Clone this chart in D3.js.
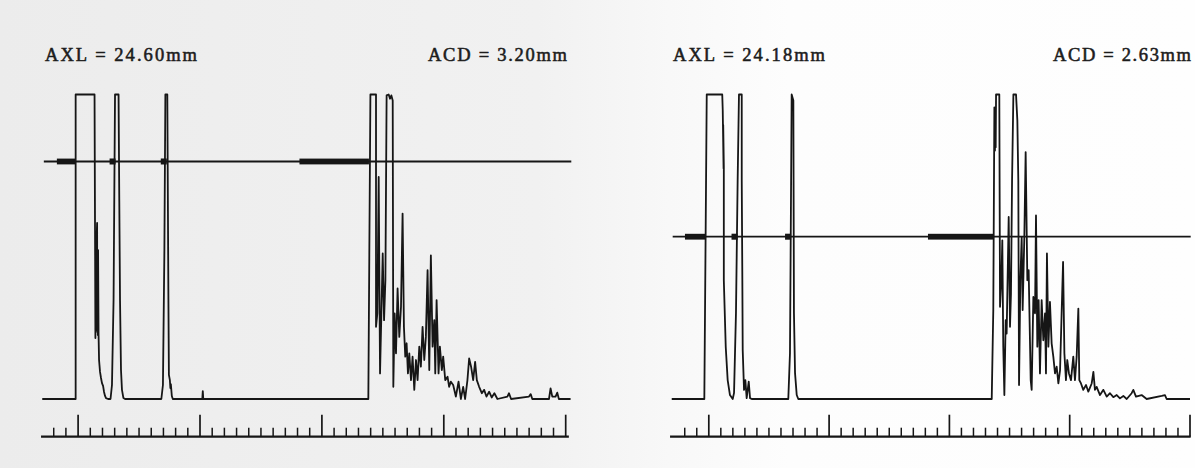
<!DOCTYPE html>
<meta charset="utf-8">
<html>
<head>
<title>A-scan echograms</title>
<script src="https://d3js.org/d3.v7.min.js"></script>
<style>
body {
  margin: 0;
  background: #fff;
}
svg {
  display: block;
}
.label {
  font-family: "Liberation Serif", "DejaVu Serif", serif;
  font-size: 18.5px;
  fill: #1c1c1c;
  stroke: #1c1c1c;
  stroke-width: 0.55px;
}
.trace {
  fill: none;
  stroke: #161616;
  stroke-width: 1.8px;
  stroke-linejoin: round;
}
.gate {
  stroke: #161616;
  stroke-width: 1.8px;
}
.ruler line, .ruler path {
  stroke: #161616;
}
</style>
</head>
<body>
<div id="chart"></div>

<script>
// labels printed above each echogram
var axlLabels = ["AXL = 24.60mm", "AXL = 24.18mm"];
var acdLabels = ["ACD = 3.20mm", "ACD = 2.63mm"];

// ruler ticks (one unit = one small tick)
var majorTicks = [0, 10, 20, 30, 40];
var minorTicks = d3.range(-2, 40).filter(function (v) { return v % 10 !== 0; });

// gate level (amplitude %) and the marks drawn on the gate line
var gateLevels = [78, 53.3];
var leftGateBars = [[-1.7, -0.17], [18.2, 23.9]];
var leftGateDots = [2.87, 7.07];
var rightGateBars = [[-1.94, -0.19], [18.26, 23.75]];
var rightGateDots = [2.18, 6.63];

// echo traces: [depth in ruler units, amplitude %]
var leftTrace = [
  [-2.9, 0], [-0.16, 0], [-0.16, 100], [1.39, 100], [1.43, 55.4], [1.46, 20], [1.48, 50], [1.50, 24],
  [1.52, 52], [1.54, 22.6], [1.57, 54], [1.60, 57.8], [1.62, 22], [1.64, 45], [1.66, 21], [1.68, 48.9],
  [1.72, 21], [1.76, 12.8], [1.84, 8.9], [1.92, 6.9], [2.00, 5.2],
  [2.09, 4.3], [2.17, 2.3], [2.25, 1], [2.33, 0.3], [2.50, 0],
  [2.70, 0], [2.82, 4.6], [2.95, 32.5], [3.07, 100], [3.36, 100], [3.42, 65.2], [3.48, 32.5], [3.56, 9.5],
  [3.64, 3], [3.76, 0.3], [3.89, 0],
  [6.87, 0], [7.00, 4.6], [7.12, 48.9], [7.20, 100], [7.36, 100], [7.41, 62], [7.45, 32.5], [7.49, 7.9],
  [7.57, 6.2], [7.61, 3.6], [7.65, 4.9], [7.73, 1], [7.81, 0],
  [10.23, 0], [10.27, 2.6], [10.31, 0],
  [23.85, 0], [24.02, 100], [24.48, 100], [24.48, 23.7], [24.59, 28.1], [24.70, 72.9], [24.81, 8.4],
  [24.92, 28.1], [25.03, 47.8], [25.14, 25.9], [25.25, 39], [25.35, 99.7], [25.52, 100], [25.63, 98.6],
  [25.74, 99.7], [25.85, 98], [25.90, 4], [26.01, 28.1], [26.12, 15], [26.25, 36.3], [26.39, 20.4],
  [26.53, 30.3], [26.66, 60.9], [26.77, 23.7], [26.88, 13.9], [26.99, 18.3], [27.10, 8.4], [27.21, 15],
  [27.35, 6.2], [27.48, 13.9], [27.62, 3], [27.76, 12.8], [27.89, 6.2], [28.03, 17.2], [28.16, 10.6],
  [28.30, 23.7], [28.44, 12.8], [28.57, 20.4], [28.71, 42.3], [28.85, 9.5], [28.98, 47.2], [29.12, 17.2],
  [29.26, 25.9], [29.34, 8.4], [29.45, 32.5], [29.61, 8.4], [29.72, 17.2], [29.88, 9.5], [29.99, 13.9],
  [30.16, 6.2], [30.35, 7.3], [30.48, 4], [30.62, 5.7], [30.81, 4.6], [31.03, 0.8], [31.25, 5.7],
  [31.44, 0], [31.63, 4], [31.79, 0], [31.98, 6.2], [32.12, 13.3], [32.28, 10.6], [32.45, 6.2],
  [32.61, 12.2], [32.75, 6.2], [32.94, 4], [33.16, 1.9], [33.35, 3], [33.54, 0.8], [33.76, 2.4],
  [33.97, 0.5], [34.19, 1.9], [34.44, 0], [35.26, 0.8], [35.39, 1.9], [35.56, 0], [37.03, 0.8],
  [37.17, 1.6], [37.30, 0], [38.67, 0], [38.80, 3.5], [38.94, 0.8], [39.21, 0.8], [39.35, 2.1],
  [39.48, 0], [40.44, 0]
];

var rightTrace = [
  [-3.04, 0], [-0.33, 0], [-0.13, 100], [1.16, 100], [1.20, 94.8], [1.27, 75.7], [1.24, 90], [1.29, 76.7],
  [1.29, 39], [1.45, 17.1], [1.61, 6.2], [1.80, 1.3], [2.03, 0], [2.14, 2], [2.30, 28.2], [2.44, 71.8],
  [2.55, 100], [2.78, 100], [2.78, 71.8], [2.83, 39], [2.86, 16.1], [2.97, 3], [3.08, 6.2], [3.19, 0.3],
  [3.36, 5.7], [3.47, 0.3], [3.61, 0],
  [6.65, 0], [6.79, 15.1], [6.93, 100], [7.07, 98], [7.12, 28.2], [7.21, 8.5], [7.35, 1.3], [7.48, 0],
  [23.56, 0], [23.69, 29.2], [23.78, 95.8], [23.83, 81.6], [23.86, 95.8], [23.89, 82.7], [23.92, 100],
  [24.19, 100], [24.25, 30.3], [24.36, 39], [24.44, 52.1], [24.52, 17.2], [24.61, 1.3], [24.72, 25.9],
  [24.80, 21.5], [24.97, 59.8], [25.08, 23.7], [25.16, 34.6], [25.25, 71.8], [25.36, 100], [25.58, 100],
  [25.69, 91.5], [25.77, 71.8], [25.83, 4.6], [25.94, 39], [26.05, 53.2], [26.13, 29.2], [26.27, 53.2],
  [26.38, 81.1], [26.52, 39], [26.63, 42.3], [26.80, 6.2], [26.88, 3], [27.02, 33.5], [27.16, 28.1],
  [27.24, 60.3], [27.35, 17.2], [27.46, 32.5], [27.57, 8.4], [27.71, 32.5], [27.85, 19.3], [27.99, 28.1],
  [28.07, 8.4], [28.15, 47.8], [28.27, 17.2], [28.40, 31.9], [28.54, 18.3], [28.68, 13.9], [28.82, 8.4],
  [28.96, 10.6], [29.10, 5.1], [29.24, 9.5], [29.37, 28.1], [29.49, 45], [29.60, 15], [29.73, 6.2],
  [29.84, 12.8], [29.98, 8.4], [30.15, 6.2], [30.34, 13.9], [30.48, 6.2], [30.62, 13.9], [30.76, 29.7],
  [30.84, 6.2], [30.98, 5.1], [31.17, 3], [31.40, 4.6], [31.59, 2.4], [31.87, 5.1], [32.01, 8.9],
  [32.14, 3], [32.28, 4], [32.56, 1.3], [32.84, 3], [33.12, 0.8], [33.39, 1.9], [33.67, 0.6],
  [33.95, 1.3], [34.22, 0.2], [34.50, 1], [34.78, 0], [35.19, 1.9], [35.33, 3], [35.55, 0.8],
  [36.02, 1.3], [36.44, 0], [37.69, 1], [37.96, 1.3], [38.10, 0], [40.04, 0]
];

// layout
var width = 1195, height = 468;
var rulerY = 436.7;

var panels = [
  {
    trace: leftTrace, gate: gateLevels[0], bars: leftGateBars, dots: leftGateDots,
    axl: axlLabels[0], acd: acdLabels[0],
    range: [77.6, 565.2], gateExtent: [-2.77, 40.5], rulerExtent: [-3.0, 40.3],
    axlX: 45, axlW: 152, acdX: 428, acdW: 139
  },
  {
    trace: rightTrace, gate: gateLevels[1], bars: rightGateBars, dots: rightGateDots,
    axl: axlLabels[1], acd: acdLabels[1],
    range: [708.3, 1189.5], gateExtent: [-2.96, 40.1], rulerExtent: [-3.18, 40.1],
    axlX: 673, axlW: 152, acdX: 1053, acdW: 138
  }
];

var svg = d3.select("#chart")
  .append("svg")
  .attr("width", width)
  .attr("height", height);

// scanned paper tone, greyer on the left
var grad = svg.append("defs").append("linearGradient")
  .attr("id", "paper")
  .attr("x1", "0%").attr("x2", "100%");
grad.append("stop").attr("offset", "0%").attr("stop-color", "#ececec");
grad.append("stop").attr("offset", "45%").attr("stop-color", "#f1f1f1");
grad.append("stop").attr("offset", "56%").attr("stop-color", "#f8f8f8");
grad.append("stop").attr("offset", "66%").attr("stop-color", "#fdfdfd");
grad.append("stop").attr("offset", "100%").attr("stop-color", "#fefefe");

svg.append("rect")
  .attr("width", width)
  .attr("height", height)
  .attr("fill", "url(#paper)");

var y = d3.scaleLinear().domain([0, 100]).range([399, 94.5]);

panels.forEach(function (p) {
  var x = d3.scaleLinear().domain([0, 40]).range(p.range);
  var g = svg.append("g");

  // labels, spread out like the printer's fixed pitch
  g.append("text")
    .attr("class", "label")
    .attr("x", p.axlX)
    .attr("y", 61)
    .attr("textLength", p.axlW)
    .attr("lengthAdjust", "spacing")
    .text(p.axl);
  g.append("text")
    .attr("class", "label")
    .attr("x", p.acdX)
    .attr("y", 61)
    .attr("textLength", p.acdW)
    .attr("lengthAdjust", "spacing")
    .text(p.acd);

  // gate line with its thick markers
  g.append("line")
    .attr("class", "gate")
    .attr("x1", x(p.gateExtent[0]))
    .attr("x2", x(p.gateExtent[1]))
    .attr("y1", y(p.gate))
    .attr("y2", y(p.gate));

  g.selectAll(".bar")
    .data(p.bars)
    .enter().append("rect")
    .attr("class", "bar")
    .attr("x", function (d) { return x(d[0]); })
    .attr("width", function (d) { return x(d[1]) - x(d[0]); })
    .attr("y", y(p.gate) - 2.9)
    .attr("height", 5.8)
    .attr("fill", "#161616");

  g.selectAll(".dot")
    .data(p.dots)
    .enter().append("rect")
    .attr("class", "dot")
    .attr("x", function (d) { return x(d) - 3; })
    .attr("width", 6)
    .attr("y", y(p.gate) - 3)
    .attr("height", 6)
    .attr("fill", "#161616");

  // echo trace
  var line = d3.line()
    .x(function (d) { return x(d[0]); })
    .y(function (d) { return y(d[1]); });

  g.append("path")
    .attr("class", "trace")
    .attr("d", line(p.trace));

  // ruler
  g.append("line")
    .attr("x1", x(p.rulerExtent[0]))
    .attr("x2", x(p.rulerExtent[1]))
    .attr("y1", rulerY)
    .attr("y2", rulerY)
    .attr("stroke", "#161616")
    .attr("stroke-width", 2.2);

  g.append("g")
    .attr("class", "ruler")
    .attr("transform", "translate(0," + rulerY + ")")
    .call(d3.axisTop(x).tickValues(majorTicks).tickSize(22).tickFormat(""))
    .call(function (a) { a.select(".domain").remove(); })
    .selectAll("line").attr("stroke-width", 1.7);

  g.append("g")
    .attr("class", "ruler")
    .attr("transform", "translate(0," + rulerY + ")")
    .call(d3.axisTop(x).tickValues(minorTicks).tickSize(9).tickFormat(""))
    .call(function (a) { a.select(".domain").remove(); })
    .selectAll("line").attr("stroke-width", 1.5);
});
</script>
</body>
</html>
